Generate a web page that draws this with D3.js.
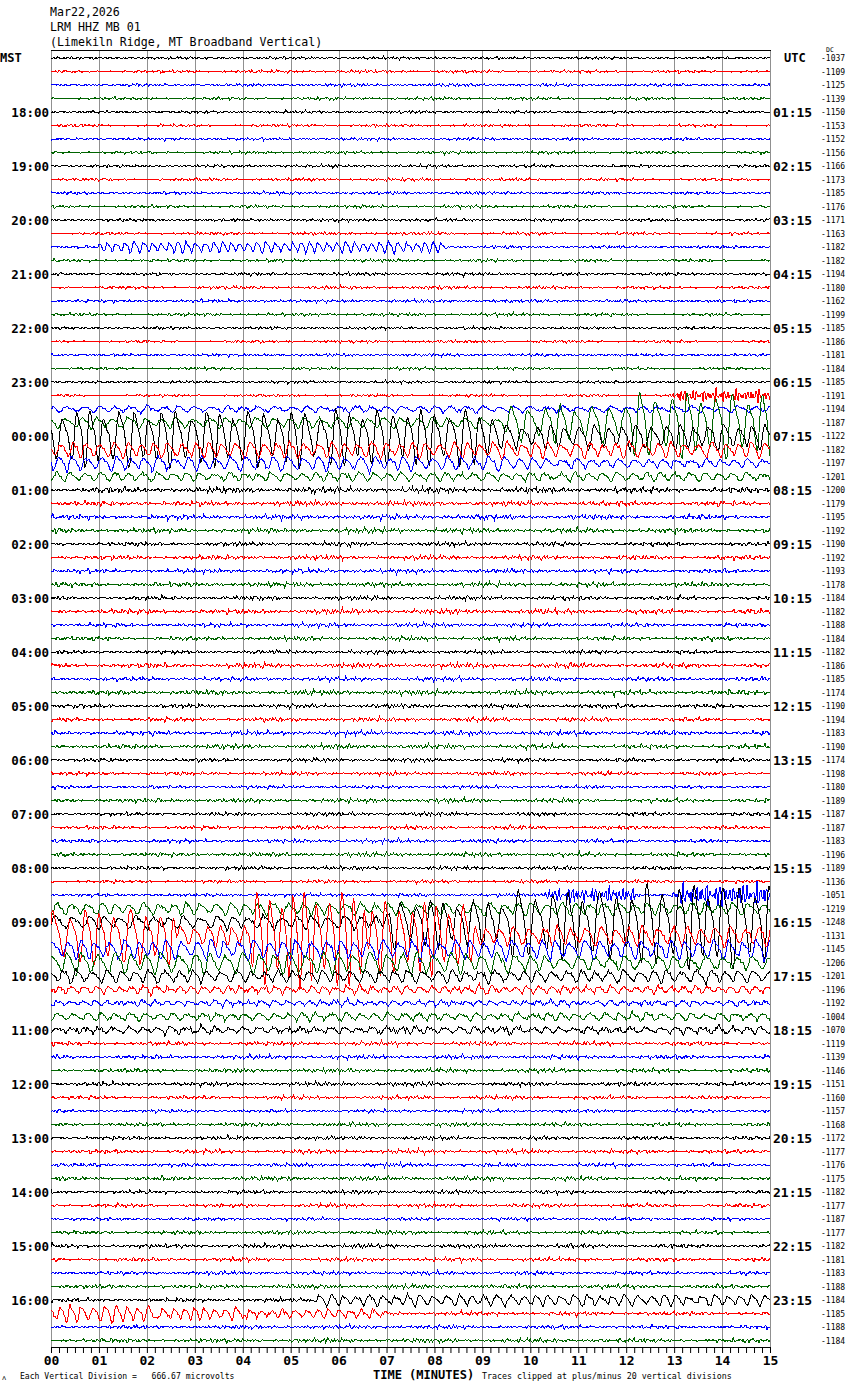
<!DOCTYPE html>
<html>
<head>
<meta charset="utf-8">
<script src="https://cdn.jsdelivr.net/npm/d3@7/dist/d3.min.js"></script>
<style>
body { margin: 0; background: #fff; }
text { font-family: "DejaVu Sans Mono", monospace; fill: #000; }
</style>
</head>
<body>
<svg id="heli" width="850" height="1390"></svg>
<script>
// header lines
var title = ["Mar22,2026", "LRM HHZ MB 01", "(Limekiln Ridge, MT Broadband Vertical)"];
var traceColors = ["#000000", "#ff0000", "#0000ff", "#006400"];
var minuteTicks = ["00","01","02","03","04","05","06","07","08","09","10","11","12","13","14","15"];

// hour labels, one for every 4th row starting at row 4
var mstHours = ["18:00","19:00","20:00","21:00","22:00","23:00","00:00","01:00","02:00","03:00","04:00","05:00",
                "06:00","07:00","08:00","09:00","10:00","11:00","12:00","13:00","14:00","15:00","16:00"];
var utcHours = ["01:15","02:15","03:15","04:15","05:15","06:15","07:15","08:15","09:15","10:15","11:15","12:15",
                "13:15","14:15","15:15","16:15","17:15","18:15","19:15","20:15","21:15","22:15","23:15"];

// DC offset printed at the right of each row
var dcValues = [-1037,-1109,-1125,-1139,-1150,-1153,-1152,-1156,-1166,-1173,-1185,-1176,
                -1171,-1163,-1182,-1182,-1194,-1180,-1162,-1199,-1185,-1186,-1181,-1184,
                -1185,-1191,-1194,-1187,-1122,-1182,-1197,-1201,-1200,-1179,-1195,-1192,
                -1190,-1192,-1193,-1178,-1184,-1182,-1188,-1184,-1182,-1186,-1185,-1174,
                -1190,-1194,-1183,-1190,-1174,-1198,-1180,-1189,-1187,-1187,-1183,-1196,
                -1189,-1136,-1051,-1219,-1248,-1131,-1145,-1206,-1201,-1196,-1192,-1004,
                -1070,-1119,-1139,-1146,-1151,-1160,-1157,-1168,-1172,-1177,-1176,-1175,
                -1182,-1177,-1187,-1177,-1182,-1181,-1183,-1188,-1184,-1185,-1188,-1184];

// background noise level of each row, in vertical divisions
var noiseAmp = [0.12,0.14,0.14,0.14, 0.13,0.13,0.13,0.14, 0.14,0.14,0.14,0.14,
                0.14,0.14,0.14,0.14, 0.15,0.15,0.15,0.15, 0.13,0.13,0.13,0.13,
                0.13,0.12,0.16,0.15, 0.18,0.18,0.18,0.18, 0.28,0.24,0.24,0.24,
                0.2,0.22,0.2,0.22,   0.2,0.24,0.2,0.2,    0.18,0.24,0.2,0.24,
                0.2,0.2,0.22,0.22,   0.18,0.18,0.15,0.2,  0.18,0.18,0.18,0.2,
                0.18,0.15,0.15,0.18, 0.2,0.2,0.2,0.2,     0.2,0.22,0.2,0.2,
                0.24,0.2,0.2,0.2,    0.2,0.18,0.15,0.18,  0.18,0.2,0.18,0.2,
                0.18,0.18,0.15,0.18, 0.2,0.18,0.18,0.2,   0.18,0.2,0.18,0.2];

// larger wave trains: [row, start min, end min, amplitude (divisions), period (s)]
var events = [
  [14, 1.0, 8.2, 0.45, 11],
  [25, 13.0, 15, 0.5, 3.6],
  [26, 0, 15, 0.25, 20],
  [27, 0, 9.5, 0.45, 20], [27, 9.5, 12, 1.5, 20], [27, 12, 15, 2.6, 19],
  [28, 0, 9.3, 2.3, 18], [28, 9.3, 15, 1.0, 18],
  [29, 0, 15, 0.65, 17],
  [30, 0, 10, 0.6, 18], [30, 10, 15, 0.35, 18],
  [31, 0, 15, 0.35, 18],
  [62, 10.3, 12.2, 0.6, 4.2], [62, 13.0, 15, 0.85, 4.2],
  [63, 0, 15, 0.5, 18],
  [64, 0, 7, 0.55, 20], [64, 7, 9.5, 2.0, 18], [64, 9.5, 12.3, 2.8, 20], [64, 12.3, 15, 3.4, 19],
  [65, 0, 2.6, 2.3, 19], [65, 2.6, 4.2, 0.9, 16], [65, 4.2, 6.6, 4.0, 15], [65, 6.6, 8.8, 3.0, 16], [65, 8.8, 15, 0.8, 18],
  [66, 0, 15, 0.8, 18],
  [67, 0, 10, 0.9, 20], [67, 10, 15, 0.55, 20],
  [68, 0, 15, 0.5, 18],
  [69, 0, 15, 0.3, 15],
  [70, 0, 15, 0.2, 15],
  [71, 0, 15, 0.3, 18],
  [72, 0, 15, 0.25, 18],
  [92, 5.5, 15, 0.45, 16],
  [93, 0, 2.2, 0.7, 14], [93, 2.2, 4.0, 0.5, 13], [93, 4.0, 7.0, 0.35, 14]
];

var TOP = 50, BOTTOM = 1347;
var svg = d3.select("#heli");

var x = d3.scaleLinear().domain([0, 15]).range([51, 770]);
var y = d3.scaleLinear().domain([0, 95]).range([58, 1340.5]);

// wiggle texture
var nP = [3.1, 4.3, 5.9, 8.3, 12.7, 19];
var nW = [0.7, 0.8, 0.7, 0.55, 0.45, 0.4];
function noise(r, t) {
  var s = 0;
  for (var k = 0; k < nP.length; k++) {
    var ph = (r * 7.13 + k * 2.39 + r * k * 1.618) % (2 * Math.PI);
    s += nW[k] * Math.sin(2 * Math.PI * t / nP[k] + ph);
  }
  var m = 0.7 + 0.3 * Math.sin(2 * Math.PI * t / 131 + r * 1.3);
  return s * m / 2.4;
}
function wave(r, t, P) {
  if (P < 5) {
    var m0 = 0.5 + 0.5 * Math.abs(Math.sin(2 * Math.PI * t / 47 + r));
    return m0 * (Math.sin(2*Math.PI*t/P + r) + 0.8*Math.sin(2*Math.PI*t/(P*1.37) + r*2.1)
          + 0.6*Math.sin(2*Math.PI*t/(P*0.71) + r*0.4)) / 1.8;
  }
  var ph = 2 * Math.PI * t / P + 0.5 * Math.sin(2 * Math.PI * t / 83 + r) + r * 0.77;
  var m = 0.8 + 0.2 * Math.sin(2 * Math.PI * t / 53 + r);
  return m * (0.85 * Math.sin(ph) + 0.25 * Math.sin(2 * ph + 0.6));
}
function envelope(t, t0, t1) {
  var ramp = 5;
  var a = t0 === 0 ? 1 : Math.max(0, Math.min(1, (t - t0 * 60 + ramp) / (2 * ramp)));
  var b = t1 === 15 ? 1 : Math.max(0, Math.min(1, (t1 * 60 + ramp - t) / (2 * ramp)));
  return Math.min(a, b);
}

var times = d3.range(0, 900.01, 1.25);
var rows = dcValues.map(function(dc, r) {
  var ev = events.filter(function(e) { return e[0] === r; });
  var pts = times.map(function(t) {
    var v = noiseAmp[r] * noise(r, t);
    ev.forEach(function(e) { v += e[3] * envelope(t, e[1], e[2]) * wave(r, t, e[4]); });
    return [t / 60, v];
  });
  return { row: r, pts: pts };
});

// grid
svg.append("g").selectAll("line")
  .data(d3.range(0, 16))
  .enter().append("line")
    .attr("x1", function(d) { return Math.round(x(d)) + 0.5; })
    .attr("x2", function(d) { return Math.round(x(d)) + 0.5; })
    .attr("y1", TOP).attr("y2", BOTTOM)
    .style("stroke", "#909090").style("stroke-width", 1);

svg.append("line")
  .attr("x1", x(0)).attr("x2", x(15) + 1)
  .attr("y1", TOP + 0.5).attr("y2", TOP + 0.5)
  .style("stroke", "#000");

// traces
var line = d3.line()
  .x(function(d) { return x(d[0]); });
svg.append("g").selectAll("path")
  .data(rows)
  .enter().append("path")
    .attr("d", function(d) {
      return line.y(function(p) { return y(d.row - p[1]); })(d.pts);
    })
    .style("fill", "none")
    .style("stroke", function(d) { return traceColors[d.row % 4]; })
    .style("stroke-width", 1)
    .style("shape-rendering", "crispEdges");

// header
svg.selectAll("text.title")
  .data(title)
  .enter().append("text")
    .attr("class", "title")
    .attr("x", 50)
    .attr("y", function(d, i) { return 16 + i * 15; })
    .style("font-size", "11.6px")
    .text(function(d) { return d; });

svg.append("text").attr("x", 0).attr("y", 62)
  .style("font-size", "12px").style("font-weight", "bold").text("MST");
svg.append("text").attr("x", 784).attr("y", 62)
  .style("font-size", "12px").style("font-weight", "bold").text("UTC");
svg.append("text").attr("x", 826).attr("y", 52)
  .style("font-size", "6.5px").text("DC");

svg.selectAll("text.mst")
  .data(mstHours)
  .enter().append("text")
    .attr("class", "mst")
    .attr("x", 49)
    .attr("y", function(d, i) { return y((i + 1) * 4) + 5; })
    .attr("text-anchor", "end")
    .style("font-size", "12.5px").style("font-weight", "bold")
    .text(function(d) { return d; });

svg.selectAll("text.utc")
  .data(utcHours)
  .enter().append("text")
    .attr("class", "utc")
    .attr("x", 773)
    .attr("y", function(d, i) { return y((i + 1) * 4) + 5; })
    .style("font-size", "13px").style("font-weight", "bold")
    .text(function(d) { return d; });

svg.selectAll("text.dc")
  .data(dcValues)
  .enter().append("text")
    .attr("class", "dc")
    .attr("x", 821)
    .attr("y", function(d, i) { return y(i) + 3; })
    .style("font-size", "8px")
    .text(function(d) { return d; });

// time axis
var axis = d3.axisBottom(x)
  .tickValues(d3.range(0, 91).map(function(i) { return i / 6; }))
  .tickSize(6)
  .tickSizeOuter(0)
  .tickFormat(function(d, i) { return i % 6 === 0 ? minuteTicks[i / 6] : ""; });
var gx = svg.append("g")
  .attr("transform", "translate(0," + BOTTOM + ")")
  .call(axis);
gx.select(".domain").style("stroke", "#000");
gx.selectAll(".tick line").style("stroke", "#000");
gx.selectAll(".tick text")
  .style("font-family", "'DejaVu Sans Mono', monospace")
  .style("font-size", "13px").style("font-weight", "bold").style("fill", "#000");

svg.append("text").attr("x", 373).attr("y", 1379)
  .style("font-size", "12px").style("font-weight", "bold").text("TIME (MINUTES)");
svg.append("text").attr("x", 20).attr("y", 1379)
  .style("font-size", "8.1px").attr("xml:space", "preserve")
  .text("Each Vertical Division =   666.67 microvolts");
svg.append("text").attr("x", 482).attr("y", 1379)
  .style("font-size", "8.3px").text("Traces clipped at plus/minus 20 vertical divisions");
svg.append("text").attr("x", 2).attr("y", 1380)
  .style("font-size", "7px").text("ʌ");
</script>
</body>
</html>
